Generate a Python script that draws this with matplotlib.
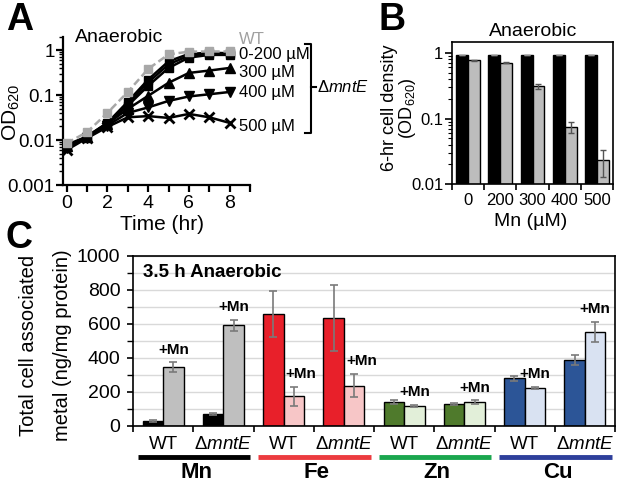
import matplotlib
matplotlib.use('Agg')
import matplotlib.pyplot as plt
from matplotlib.lines import Line2D
from matplotlib.ticker import LogLocator, NullFormatter, FixedLocator, MultipleLocator
import numpy as np

# ---------------- data ----------------
# Panel A: growth curves (OD620) vs time
time_hr = [0, 1, 2, 3, 4, 5, 6, 7, 8]
od_wt = [0.0085, 0.015, 0.040, 0.117, 0.38, 0.80, 0.92, 0.93, 0.93]
od_mn0 = [0.0078, 0.012, 0.024, 0.071, 0.22, 0.56, 0.82, 0.87, 0.85]
od_mn100 = [0.0072, 0.012, 0.024, 0.065, 0.19, 0.48, 0.75, 0.82, 0.82]
od_mn200 = [0.0070, 0.0115, 0.023, 0.058, 0.16, 0.40, 0.68, 0.78, 0.78]
od_mn300 = [0.0072, 0.0118, 0.023, 0.049, 0.096, 0.187, 0.31, 0.35, 0.40]
od_mn400 = [0.0066, 0.0113, 0.021, 0.040, 0.053, 0.074, 0.093, 0.104, 0.117]
od_mn500 = [0.0060, 0.011, 0.0195, 0.032, 0.034, 0.031, 0.038, 0.032, 0.024]

# Panel B: 6-hr cell density
b_conc = ['0', '200', '300', '400', '500']
b_wt = [0.92, 0.92, 0.92, 0.92, 0.92]
b_wt_err = [0.01, 0.01, 0.01, 0.01, 0.01]
b_mnte = [0.77, 0.70, 0.31, 0.075, 0.023]
b_mnte_err = [0.01, 0.01, 0.025, 0.014, 0.010]

# Panel C: cell associated metal
c_metals = ['Mn', 'Fe', 'Zn', 'Cu']
c_strains = ['WT', r'$\Delta\mathit{mntE}$']
c_ctrl = [30, 70, 660, 635, 141, 129, 282, 386]
c_ctrl_err = [5, 8, 135, 195, 10, 5, 15, 30]
c_plus = [347, 592, 175, 238, 118, 139, 225, 553]
c_plus_err = [27, 33, 55, 70, 5, 12, 7, 60]
c_dark = ['#000000', '#e8202a', '#4f7a2c', '#2c5597']
c_light = ['#bfbfbf', '#f7c6c7', '#e2efd9', '#d9e2f2']
c_line = ['#000000', '#ec3b3f', '#1aa64e', '#2e3f9b']

# ---------------- style ----------------
plt.rcParams['font.family'] = ['Liberation Sans', 'DejaVu Sans']
plt.rcParams['mathtext.fontset'] = 'custom'
plt.rcParams['mathtext.rm'] = 'Liberation Sans'
plt.rcParams['mathtext.it'] = 'Liberation Sans:italic'
plt.rcParams['mathtext.bf'] = 'Liberation Sans:bold'

W, H = 622, 487
fig = plt.figure(figsize=(W / 100, H / 100), dpi=100)


def rect(l, t, r, b):
    return [l / W, 1 - b / H, (r - l) / W, (b - t) / H]


def fx(x):
    return x / W


def fy(y):
    return 1 - y / H


# ---------------- Panel A ----------------
axA = fig.add_axes(rect(63, 36.5, 250, 185))
axA.set_yscale('log')
axA.set_ylim(0.001, 2)
axA.set_xlim(-0.18, 9)
lw = 1.8
axA.plot(time_hr, od_wt, color='#a8a8a8', ls='--', lw=lw, marker='s', ms=6, zorder=5, dashes=(3, 1.5))
axA.plot(time_hr, od_mn200, color='k', lw=lw, marker='s', ms=6)
axA.plot(time_hr, od_mn100, color='k', lw=lw, marker='o', ms=5.5)
axA.plot(time_hr, od_mn0, color='k', lw=lw, marker='s', ms=6)
axA.plot(time_hr, od_mn300, color='k', lw=lw, marker='^', ms=6.5)
axA.plot(time_hr, od_mn400, color='k', lw=lw, marker='v', ms=6.5)
axA.plot(time_hr, od_mn500, color='k', lw=lw, marker='x', ms=7, mew=2)
for s in ['top', 'right']:
    axA.spines[s].set_visible(False)
for s in ['left', 'bottom']:
    axA.spines[s].set_linewidth(1.6)
axA.set_xticks(range(10))
axA.set_xticklabels(['0', '', '2', '', '4', '', '6', '', '8', ''])
axA.set_yticks([0.001, 0.01, 0.1, 1])
axA.set_yticklabels(['0.001', '0.01', '0.1', '1'])
axA.yaxis.set_minor_locator(LogLocator(base=10, subs=np.arange(2, 10)))
axA.yaxis.set_minor_formatter(NullFormatter())
axA.tick_params(which='major', direction='out', length=5, width=1.6, labelsize=13.5, pad=1)
axA.tick_params(which='minor', direction='out', length=3, width=1.0)
axA.tick_params(axis='x', pad=2, labelsize=14)
fig.text(fx(75), fy(38), 'Anaerobic', fontsize=14, va='center', ha='left')
fig.text(fx(11.5), fy(112), r'OD$_{620}$', fontsize=15, rotation=90, va='center', ha='center')
fig.text(fx(162), fy(225), 'Time (hr)', fontsize=15, va='center', ha='center')

# labels on the right of panel A
fig.text(fx(239), fy(39), 'WT', fontsize=12, color='#a0a0a0', va='center', ha='left')
fig.text(fx(239), fy(55), '0-200 \u00b5M', fontsize=12, va='center', ha='left')
fig.text(fx(239), fy(73), '300 \u00b5M', fontsize=12, va='center', ha='left')
fig.text(fx(239), fy(93), '400 \u00b5M', fontsize=12, va='center', ha='left')
fig.text(fx(239), fy(127), '500 \u00b5M', fontsize=12, va='center', ha='left')
bx = 311
fig.add_artist(Line2D([fx(bx - 6), fx(bx), fx(bx), fx(bx - 6)],
                      [fy(44), fy(44), fy(133), fy(133)], color='k', lw=1.5))
fig.add_artist(Line2D([fx(bx), fx(bx + 5)], [fy(87), fy(87)], color='k', lw=1.5))
fig.text(fx(317), fy(87), r'$\Delta\mathit{mntE}$', fontsize=12, va='center', ha='left')

fig.text(fx(20), fy(20), 'A', fontsize=27, fontweight='bold', va='center', ha='center')
fig.text(fx(392), fy(20), 'B', fontsize=27, fontweight='bold', va='center', ha='center')
fig.text(fx(19), fy(238), 'C', fontsize=27, fontweight='bold', va='center', ha='center')

# ---------------- Panel B ----------------
axB = fig.add_axes(rect(451.7, 41.7, 613.3, 184.3))
axB.set_yscale('log')
xb = np.arange(len(b_conc))
bw = 0.37
axB.bar(xb - bw / 2, b_wt, width=bw, color='k', edgecolor='k', lw=1.0,
        yerr=b_wt_err, error_kw=dict(ecolor='#909090', capsize=2.5, elinewidth=1, capthick=1))
axB.bar(xb + bw / 2, b_mnte, width=bw, color='#bdbdbd', edgecolor='k', lw=1.0,
        yerr=b_mnte_err, error_kw=dict(ecolor='#555555', capsize=2.5, elinewidth=1, capthick=1))
axB.set_ylim(0.01, 1.47)
axB.set_xlim(-0.5, len(b_conc) - 0.5)
axB.set_yticks([0.01, 0.1, 1])
axB.set_yticklabels(['0.01', '0.1', '1'])
axB.yaxis.set_minor_locator(LogLocator(base=10, subs=np.arange(2, 10)))
axB.yaxis.set_minor_formatter(NullFormatter())
axB.set_xticks(xb)
axB.set_xticklabels(b_conc)
axB.xaxis.set_minor_locator(FixedLocator(np.arange(-0.5, len(b_conc), 1.0)))
axB.tick_params(axis='x', which='major', length=0, labelsize=12, pad=6)
axB.tick_params(axis='x', which='minor', length=4, width=1.2, direction='out')
axB.tick_params(axis='y', which='major', length=5, width=1.2, direction='out', labelsize=12, pad=1)
axB.tick_params(axis='y', which='minor', length=3, width=0.8, direction='out')
for s in axB.spines.values():
    s.set_linewidth(1.2)
fig.text(fx(533), fy(31), 'Anaerobic', fontsize=14, va='center', ha='center')
fig.text(fx(531), fy(221), 'Mn (\u00b5M)', fontsize=14, va='center', ha='center')
fig.text(fx(389), fy(108), '6-hr cell density', fontsize=13, rotation=90, va='center', ha='center')
fig.text(fx(407), fy(108), r'(OD$_{620}$)', fontsize=13, rotation=90, va='center', ha='center')

# ---------------- Panel C ----------------
axC = fig.add_axes(rect(133, 256, 615, 426))
n = len(c_ctrl)
xc = np.arange(n)
cw = 0.34
dark_cols = [c_dark[i // 2] for i in range(n)]
light_cols = [c_light[i // 2] for i in range(n)]
axC.set_axisbelow(True)
axC.yaxis.grid(True, which='both', color='#d9d9d9', lw=1)
axC.bar(xc - cw / 2, c_ctrl, width=cw, color=dark_cols, edgecolor='k', lw=1.0,
        yerr=c_ctrl_err, error_kw=dict(ecolor='#7a7a7a', capsize=3, elinewidth=1.2, capthick=1.2))
axC.bar(xc + cw / 2, c_plus, width=cw, color=light_cols, edgecolor='k', lw=1.0,
        yerr=c_plus_err, error_kw=dict(ecolor='#7a7a7a', capsize=3, elinewidth=1.2, capthick=1.2))
label_shift = [0, 0, 0.12, 0.12, 0, 0, 0, 0]
for i in range(n):
    axC.text(xc[i] + cw / 2 + label_shift[i], c_plus[i] + c_plus_err[i] + 75, '+Mn', fontsize=11,
             fontweight='bold', ha='center', va='center')
axC.set_xlim(-0.5, n - 0.5)
axC.set_ylim(0, 1000)
axC.yaxis.set_major_locator(MultipleLocator(200))
axC.yaxis.set_minor_locator(MultipleLocator(100))
axC.set_xticks(np.arange(-0.5, n, 1.0))
axC.set_xticklabels([])
axC.tick_params(axis='x', which='major', length=4, width=1.2, direction='out')
axC.tick_params(axis='y', which='major', length=4, width=1.2, direction='out', labelsize=14, pad=5)
axC.tick_params(axis='y', which='minor', length=4, width=1.0, direction='out')
for s in axC.spines.values():
    s.set_linewidth(1.2)

tr = axC.get_xaxis_transform()
for i in range(n):
    axC.text(xc[i], -0.11, c_strains[i % 2], transform=tr, fontsize=13.5,
             ha='center', va='center', clip_on=False)
for m in range(len(c_metals)):
    x0 = 2 * m - 0.5 + 0.08
    x1 = 2 * m + 1.5 - 0.05
    axC.plot([x0, x1], [-0.18, -0.18], transform=tr, color=c_line[m], lw=3.5,
             solid_capstyle='butt', clip_on=False)
    axC.text(2 * m + 0.55, -0.275, c_metals[m], transform=tr, fontsize=16,
             fontweight='bold', ha='center', va='center', clip_on=False)
axC.text(0.02, 0.905, '3.5 h Anaerobic', transform=axC.transAxes, fontsize=13.5,
         fontweight='bold', ha='left', va='center')
fig.text(fx(29), fy(345), 'Total cell associated', fontsize=14.5, rotation=90, va='center', ha='center')
fig.text(fx(62), fy(345), 'metal (ng/mg protein)', fontsize=14.5, rotation=90, va='center', ha='center')

fig.savefig('out.png', dpi=100)
